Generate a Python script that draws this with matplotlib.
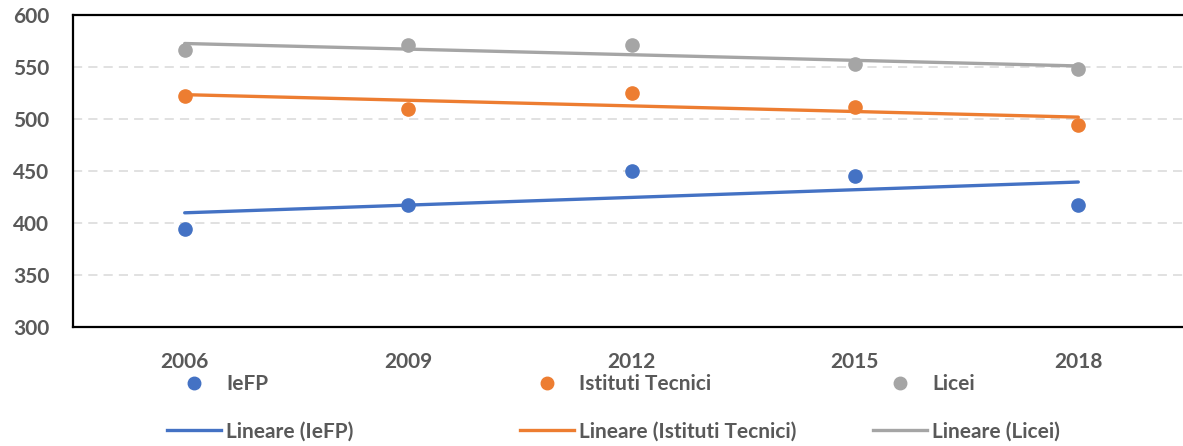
import numpy as np
import matplotlib
matplotlib.use("Agg")
import matplotlib.pyplot as plt
from matplotlib.lines import Line2D

anni = ["2006", "2009", "2012", "2015", "2018"]
iefp = [394, 417, 450, 445, 417]
tecnici = [522, 510, 525, 512, 494]
licei = [566, 571, 571, 553, 548]

nomi = ["IeFP", "Istituti Tecnici", "Licei"]
colori = ["#4472C4", "#ED7D31", "#A5A5A5"]
serie = [iefp, tecnici, licei]

plt.rcParams['font.family'] = ['Lato', 'DejaVu Sans']
grigio = "#595959"

W, H = 1183, 446
fig = plt.figure(figsize=(W / 100, H / 100), dpi=100)
ax = fig.add_axes([73 / W, (H - 327) / H, (1190 - 73) / W, (327 - 15) / H])

x = np.arange(len(anni))
for valori, col in zip(serie, colori):
    ax.plot(x, valori, ls='none', marker='o', ms=9.5, color=col, zorder=3)
    # linea di tendenza (regressione lineare come in Excel)
    a, b = np.polyfit(x, valori, 1)
    ax.plot(x, a * x + b, color=col, lw=2.4, solid_capstyle='round', zorder=2)

ax.set_xlim(-0.5, 4.5)
ax.set_ylim(300, 600)
ax.set_yticks(np.arange(300, 601, 50))
ax.set_xticks(x)
ax.set_xticklabels(anni)
ax.grid(axis='y', color='#D9D9D9', lw=1.1, ls=(0, (6, 4)))
ax.set_axisbelow(True)
for s in ax.spines.values():
    s.set_color('black')
    s.set_linewidth(1.6)
ax.tick_params(length=0, labelsize=15, labelcolor=grigio)
ax.tick_params(axis='x', pad=18)
ax.tick_params(axis='y', pad=17)
for t in ax.get_xticklabels() + ax.get_yticklabels():
    t.set_fontweight('bold')

# legenda: tre colonne a spaziatura fissa
colonne_x = [167, 520, 873]
for nome, col, cx in zip(nomi, colori, colonne_x):
    h = [Line2D([], [], ls='none', marker='o', ms=9, color=col),
         Line2D([], [], lw=2.4, color=col)]
    fig.legend(h, [nome, "Lineare (" + nome + ")"], loc='center left',
               bbox_to_anchor=(cx / W, (H - 408) / H), frameon=False,
               borderpad=0, borderaxespad=0, handlelength=2.6,
               handletextpad=0.25, labelspacing=1.3, labelcolor=grigio,
               prop={'size': 15, 'weight': 'bold'})

fig.savefig("out.png", dpi=100)
